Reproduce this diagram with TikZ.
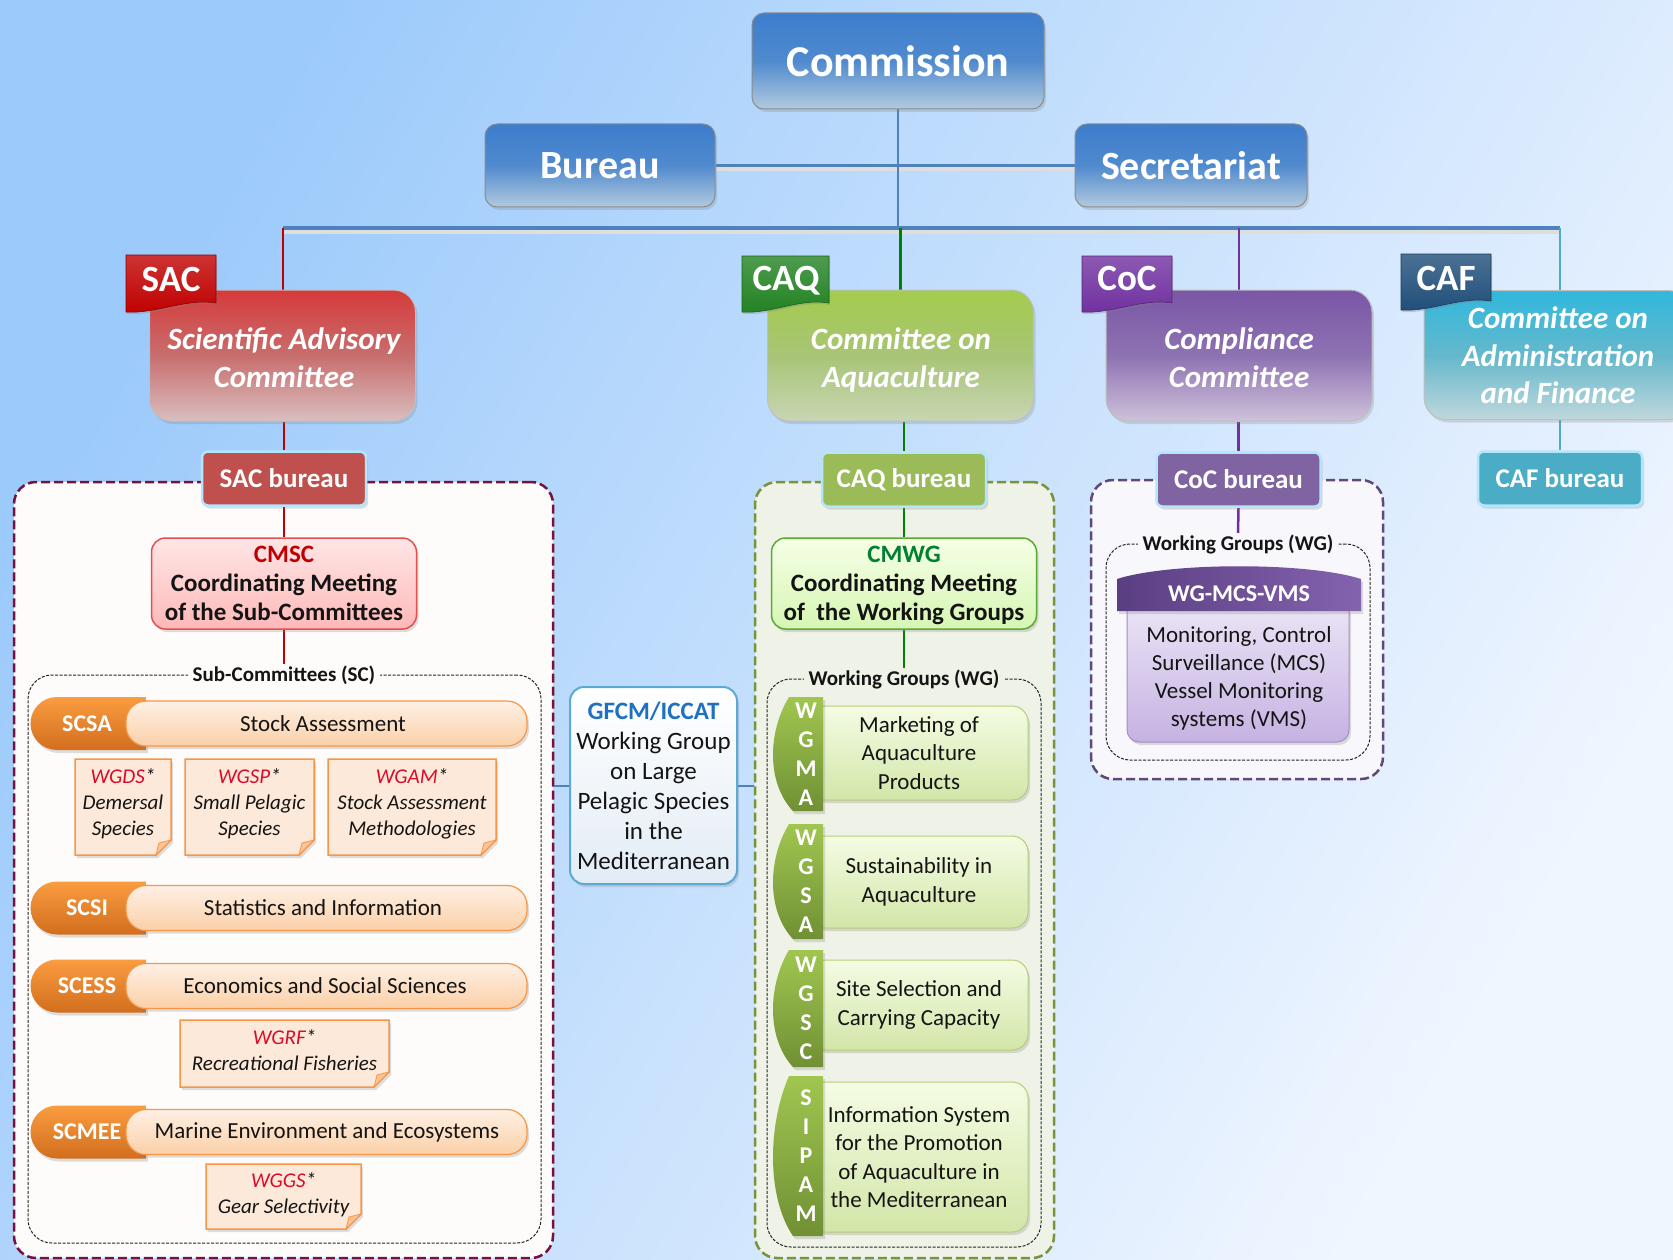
\documentclass[tikz,border=0pt]{standalone}
\usepackage{fontspec}
\setmainfont{Carlito}
\usetikzlibrary{shadows}
\pgfdeclarelayer{bg}
\pgfdeclarelayer{lines}
\pgfsetlayers{bg,lines,main}
\definecolor{bgL}{RGB}{156,202,251}
\definecolor{bgR}{RGB}{240,246,255}
\definecolor{blueT}{RGB}{60,125,205}
\definecolor{blueM}{RGB}{80,138,206}
\definecolor{blueB}{RGB}{178,202,222}
\definecolor{lineblue}{RGB}{79,129,189}
\definecolor{sacT}{RGB}{214,58,58}
\definecolor{sacM}{RGB}{200,110,110}
\definecolor{sacB}{RGB}{218,190,190}
\definecolor{caqT}{RGB}{164,204,76}
\definecolor{caqM}{RGB}{168,196,118}
\definecolor{caqB}{RGB}{200,214,180}
\definecolor{cocT}{RGB}{122,86,166}
\definecolor{cocM}{RGB}{142,114,178}
\definecolor{cocB}{RGB}{206,194,218}
\definecolor{cafT}{RGB}{48,184,220}
\definecolor{cafM}{RGB}{100,184,204}
\definecolor{cafB}{RGB}{192,216,220}
\definecolor{sacTag}{RGB}{192,0,0}
\definecolor{caqTag}{RGB}{34,130,34}
\definecolor{cocTag}{RGB}{112,48,160}
\definecolor{cafTag}{RGB}{31,78,121}
\definecolor{sacBur}{RGB}{192,80,77}
\definecolor{caqBur}{RGB}{155,187,89}
\definecolor{cocBur}{RGB}{128,100,162}
\definecolor{cafBur}{RGB}{75,172,198}
\definecolor{sacLine}{RGB}{192,0,0}
\definecolor{caqLine}{RGB}{0,128,0}
\definecolor{cocLine}{RGB}{112,48,160}
\definecolor{cafLine}{RGB}{75,172,198}
\definecolor{sacDash}{RGB}{120,16,64}
\definecolor{caqDash}{RGB}{119,147,60}
\definecolor{cocDash}{RGB}{95,73,122}
\definecolor{sacFill}{RGB}{253,252,250}
\definecolor{caqFill}{RGB}{239,242,230}
\definecolor{cocFill}{RGB}{248,248,252}
\definecolor{orTabT}{RGB}{250,156,64}
\definecolor{orTabB}{RGB}{210,110,30}
\definecolor{orBandT}{RGB}{254,240,228}
\definecolor{orBandB}{RGB}{251,208,168}
\definecolor{orLine}{RGB}{247,150,70}
\definecolor{noteFill}{RGB}{253,233,217}
\definecolor{noteRed}{RGB}{220,10,40}
\definecolor{cmscFillT}{RGB}{255,230,230}
\definecolor{cmscFillB}{RGB}{255,184,184}
\definecolor{cmscDraw}{RGB}{226,80,80}
\definecolor{cmwgFillT}{RGB}{246,255,230}
\definecolor{cmwgFillB}{RGB}{214,246,180}
\definecolor{cmwgDraw}{RGB}{90,170,50}
\definecolor{cmwgText}{RGB}{0,128,48}
\definecolor{gfcmDraw}{RGB}{90,170,210}
\definecolor{gfcmFillB}{RGB}{226,236,245}
\definecolor{gfcmText}{RGB}{31,112,193}
\definecolor{wgTabT}{RGB}{160,198,80}
\definecolor{wgTabB}{RGB}{112,144,52}
\definecolor{wgBandT}{RGB}{244,252,228}
\definecolor{wgBandB}{RGB}{210,230,168}
\definecolor{wgBandD}{RGB}{182,206,122}
\definecolor{mcsL}{RGB}{90,62,130}
\definecolor{mcsR}{RGB}{132,99,174}
\definecolor{mcsT}{RGB}{236,230,246}
\definecolor{mcsB}{RGB}{198,178,226}
\definecolor{mcsD}{RGB}{165,140,200}
\definecolor{txt}{RGB}{20,20,20}
\tikzset{
 every node/.style={inner sep=0pt, align=center, text=txt},
 shad/.style={drop shadow={shadow xshift=2pt, shadow yshift=-3pt, opacity=0.25}},
 topbox/.style={rounded corners=12pt, draw=black!45, line width=1pt, top color=blueT, bottom color=blueB, middle color=blueM, text=white, shad, font=\bfseries\fontsize{40}{46}\selectfont},
 combox/.style={rounded corners=22pt, draw=black!25, line width=1pt, shad, minimum height=131, minimum width=266},
 comtxt/.style={text=white, font=\bfseries\itshape\fontsize{31}{38}\selectfont},
 tagtxt/.style={text=white, font=\bfseries\fontsize{37}{40}\selectfont},
 burbox/.style={rounded corners=6pt, draw=white!70!cyan, line width=2.5pt, text=white, minimum width=164, minimum height=54, shad, font=\bfseries\fontsize{27}{30}\selectfont},
 cont/.style={dash pattern=on 9pt off 4pt, line width=2.5pt, rounded corners=22pt},
 inbox/.style={draw=black!85, dash pattern=on 3pt off 1.5pt, line width=1pt, rounded corners=24pt},
 cmbox/.style={rounded corners=14pt, line width=1.5pt, minimum width=265, minimum height=91, font=\bfseries\fontsize{25}{29}\selectfont, shad},
 lbl/.style={font=\bfseries\fontsize{21}{24}\selectfont, inner xsep=5pt, inner ysep=1pt},
 scband/.style={rounded corners=20pt, draw=orLine, line width=1.2pt, top color=orBandT, bottom color=orBandB, minimum width=401, minimum height=45, shad},
 sctab/.style={top color=orTabT, bottom color=orTabB, shad},
 sctabtxt/.style={text=white, font=\bfseries\fontsize{24}{28}\selectfont},
 scbandtxt/.style={font=\fontsize{23}{28}\selectfont},
 notestyle/.style={fill=noteFill, draw=orLine, line width=1.5pt, shad},
 notetxt/.style={font=\itshape\fontsize{21}{26}\selectfont},
 gfcmbox/.style={rounded corners=14pt, draw=gfcmDraw, line width=2pt, top color=white, bottom color=gfcmFillB, minimum width=167, minimum height=197, font=\fontsize{25}{30}\selectfont, shad},
 wgband/.style={rounded corners=16pt, draw=wgBandD, line width=1pt, top color=wgBandT, bottom color=wgBandB, minimum width=218, shad},
 wgtab/.style={top color=wgTabT, bottom color=wgTabB, shad},
 wglet/.style={text=white, font=\bfseries\fontsize{24}{29}\selectfont},
 wgtxt/.style={font=\fontsize{23}{28.5}\selectfont},
}
\newcommand{\tagflag}[5]{%
 \path[top color=#5!80!white, bottom color=#5, draw=#5!75!black, line width=0.6pt, drop shadow={shadow xshift=1pt,shadow yshift=-2pt,opacity=0.3}]
 (#1,#2) -- (#3,#2) -- (#3,#4-9) .. controls (#3-30,#4-14) and (#1+30,#4+2) .. (#1,#4) -- cycle;}
\newcommand{\scrow}[5]{%
 \path[sctab] (146,#2-26.5) -- (57,#2-26.5) arc[start angle=90,end angle=270,radius=26.5pt] -- (146,#2+26.5) -- cycle;
 \node[scband] (#1b) at (326.5,#2) {};
 \node[sctabtxt] (#1) at (87,#2) {#3};
 \node[scbandtxt] (#1t) at (#5,#2) {#4};}
\newcommand{\wgnote}[4]{%
 \path[notestyle] (#1,#2) -- (#3,#2) -- (#3,#4-15) -- (#3-15,#4) -- (#1,#4) -- cycle;
 \path[fill=orLine!45!noteFill, draw=orLine, line width=0.8pt] (#3,#4-15) -- (#3-15,#4) -- (#3-12,#4-12) -- cycle;}
\newcommand{\wgrow}[7]{%
 \node[wgband, minimum height=#5] (#1b) at (919,#4) {};
 \path[wgtab] (823,#2) -- (789,#2) .. controls (768,{#2+0.3*(#3-#2)}) and (766,{#3-0.25*(#3-#2)}) .. (793,#3) -- (823,#3) -- cycle;
 \node[wglet] (#1) at (806,{(#2+#3)/2}) {#6};
 \node[wgtxt] (#1t) at (919,#4) {#7};}
\begin{document}
\begin{tikzpicture}[x=1pt,y=-1pt]
\useasboundingbox (0,0) rectangle (1673,1260);
\begin{pgfonlayer}{bg}
\shade[left color=bgL, right color=bgR, shading angle=60] (0,0) rectangle (1673,1260);
\node[cont, draw=sacDash, fill=sacFill, minimum width=539, minimum height=776] (sacC) at (283.5,870) {};
\node[cont, draw=caqDash, fill=caqFill, minimum width=299, minimum height=776] (caqC) at (904.5,870) {};
\node[cont, draw=cocDash, fill=cocFill, minimum width=292, minimum height=299] (cocC) at (1237,629.5) {};
\node[inbox, minimum width=513, minimum height=568] (scIn) at (284.5,959) {};
\node[inbox, minimum width=274, minimum height=568] (caqIn) at (904,963) {};
\node[inbox, minimum width=264, minimum height=216] (cocIn) at (1238,652) {};
\end{pgfonlayer}
% top level
\node[topbox, minimum width=292, minimum height=96, font=\bfseries\fontsize{44}{50}\selectfont] (comm) at (898,61) {Commission};
\node[topbox, minimum width=230, minimum height=83] (bur) at (600,165.5) {Bureau};
\node[topbox, minimum width=232, minimum height=83] (sec) at (1191,165.5) {Secretariat};
% committees
\node[combox, top color=sacT, bottom color=sacB, middle color=sacM] (sac) at (282.5,355.5) {};
\node[comtxt] (sacT) at (284,357.5) {Scientific Advisory\\Committee};
\node[combox, top color=caqT, bottom color=caqB, middle color=caqM] (caq) at (900.5,355.5) {};
\node[comtxt] (caqT) at (901,360) {Committee on\\Aquaculture};
\node[combox, top color=cocT, bottom color=cocB, middle color=cocM] (coc) at (1239,355.5) {};
\node[comtxt] (cocT) at (1239,357.5) {Compliance\\Committee};
\node[combox, top color=cafT, bottom color=cafB, middle color=cafM, minimum height=129] (caf) at (1557,355) {};
\node[comtxt, font=\bfseries\itshape\fontsize{31}{37.5}\selectfont] (cafT) at (1558,355.5) {Committee on\\Administration\\and Finance};
\tagflag{126}{255}{216}{312}{sacTag}
\node[tagtxt] (sactag) at (171,279) {SAC};
\tagflag{742}{256}{829}{312}{caqTag}
\node[tagtxt] (caqtag) at (786,281) {CAQ};
\tagflag{1082}{256}{1172}{312}{cocTag}
\node[tagtxt] (coctag) at (1127,279) {CoC};
\tagflag{1401}{254}{1491}{310}{cafTag}
\node[tagtxt] (caftag) at (1446,278) {CAF};
% bureaus
\node[burbox, fill=sacBur] (sacb) at (284,478.5) {SAC bureau};
\node[burbox, fill=caqBur] (caqb) at (904,479.5) {CAQ bureau};
\node[burbox, fill=cocBur] (cocb) at (1238.5,479.5) {CoC bureau};
\node[burbox, fill=cafBur] (cafb) at (1560,478.5) {CAF bureau};
% coordinating meetings
\node[cmbox, top color=cmscFillT, bottom color=cmscFillB, draw=cmscDraw] (cmsc) at (284,583.5) {\textcolor{sacTag}{CMSC}\\Coordinating Meeting\\of the Sub-Committees};
\node[cmbox, top color=cmwgFillT, bottom color=cmwgFillB, draw=cmwgDraw] (cmwg) at (904,583.5) {\textcolor{cmwgText}{CMWG}\\Coordinating Meeting\\\raisebox{0pt}[\height][0pt]{of\ \ the Working Groups}};
% labels
\node[lbl, fill=sacFill] (sclbl) at (284,675) {Sub-Committees (SC)};
\node[lbl, fill=caqFill] (caqwg) at (904,679) {Working Groups (WG)};
\node[lbl, fill=cocFill] (cocwg) at (1238,544) {Working Groups (WG)};
% sub-committees
\scrow{scsa}{723.5}{SCSA}{Stock Assessment}{323}
\scrow{scsi}{908}{SCSI}{Statistics and Information}{323}
\scrow{scess}{986}{SCESS}{Economics and Social Sciences}{325}
\scrow{scmee}{1132}{SCMEE}{Marine Environment and Ecosystems}{327}
\wgnote{75}{759}{171}{855}
\node[notetxt] (wgds) at (123,804) {\textcolor{noteRed}{WGDS}*\\Demersal\\Species};
\wgnote{185}{759}{314}{855}
\node[notetxt] (wgsp) at (249.5,804) {\textcolor{noteRed}{WGSP}*\\Small Pelagic\\Species};
\wgnote{328}{759}{496}{855}
\node[notetxt] (wgam) at (412,804) {\textcolor{noteRed}{WGAM}*\\Stock Assessment\\Methodologies};
\wgnote{180}{1020}{389}{1087}
\node[notetxt] (wgrf) at (284.5,1050.5) {\textcolor{noteRed}{WGRF}*\\Recreational Fisheries};
\wgnote{206}{1164}{361}{1229}
\node[notetxt] (wggs) at (283.5,1195) {\textcolor{noteRed}{WGGS}*\\Gear Selectivity};
% GFCM/ICCAT
\node[gfcmbox] (gfcm) at (653.5,785.5) {\textcolor{gfcmText}{\bfseries GFCM/ICCAT}\\Working Group\\on Large\\Pelagic Species\\in the\\Mediterranean};
% CAQ working groups
\wgrow{wgma}{697}{811}{753}{94}{W\\G\\M\\A}{Marketing of\\Aquaculture\\Products}
\wgrow{wgsa}{824}{939}{882}{92}{W\\G\\S\\A}{Sustainability in\\Aquaculture}
\wgrow{wgsc}{950}{1067}{1005}{90}{W\\G\\S\\C}{Site Selection and\\Carrying Capacity}
\wgrow{sipam}{1076}{1236}{1157}{150}{S\\I\\P\\A\\M}{Information System\\for the Promotion\\of Aquaculture in\\the Mediterranean}
% CoC working group
\node[rounded corners=12pt, top color=mcsT, bottom color=mcsB, draw=mcsD, line width=1pt, minimum width=222, minimum height=142, shad] (mcsb) at (1238,671) {};
\path[left color=mcsL, right color=mcsR, shad] (1117,611) -- (1117,579) .. controls (1170,562) and (1308,562) .. (1361,579) -- (1361,611) -- cycle;
\node[text=white, font=\bfseries\fontsize{24}{28}\selectfont] (mcsh) at (1239,594) {WG-MCS-VMS};
\node[font=\fontsize{23}{28}\selectfont] (mcst) at (1239,678) {Monitoring, Control\\Surveillance (MCS)\\Vessel Monitoring\\systems (VMS)};
% connectors
\begin{pgfonlayer}{lines}
\coordinate (busL) at (283,228);
\coordinate (busR) at (1560,228);
\draw[black!13, line width=4pt] ([yshift=-4pt]bur.east) -- ([yshift=-4pt]sec.west);
\draw[lineblue, line width=3pt] (bur.east) -- (sec.west);
\draw[lineblue, line width=2.5pt] (comm.south) -- (comm.south |- busL);
\draw[black!13, line width=4pt] ([yshift=-4pt]busL) -- ([yshift=-4pt]busR);
\draw[lineblue, line width=3.5pt] (busL) -- (busR);
\draw[sacLine, line width=2.5pt] (busL) -- (busL |- sac.north);
\draw[caqLine, line width=2.5pt] (caq.north |- busL) -- (caq.north);
\draw[cocLine, line width=2.5pt] (coc.north |- busL) -- (coc.north);
\draw[cafLine, line width=2.5pt] (busR) -- (busR |- caf.north);
\draw[sacLine, line width=2.5pt] (sacb.north |- sac.south) -- (sacb.north);
\draw[caqLine, line width=2.5pt] (caqb.north |- caq.south) -- (caqb.north);
\draw[cocLine, line width=2.5pt] (cocb.north |- coc.south) -- (cocb.north);
\draw[cafLine, line width=2.5pt] (cafb.north |- caf.south) -- (cafb.north);
\draw[sacLine, line width=2pt] (sacb.south) -- (cmsc.north);
\draw[sacLine, line width=2pt] (cmsc.south) -- (sclbl.north);
\draw[caqLine, line width=2pt] (caqb.south) -- (cmwg.north);
\draw[caqLine, line width=2pt] (cmwg.south) -- (caqwg.north);
\draw[cocLine, line width=2.5pt] (cocb.south) -- (cocwg.north);
\draw[lineblue, line width=2pt] (gfcm.west -| sacC.east) -- (gfcm.west);
\draw[lineblue, line width=2pt] (gfcm.east) -- (gfcm.east -| caqC.west);
\end{pgfonlayer}
\end{tikzpicture}
\end{document}
